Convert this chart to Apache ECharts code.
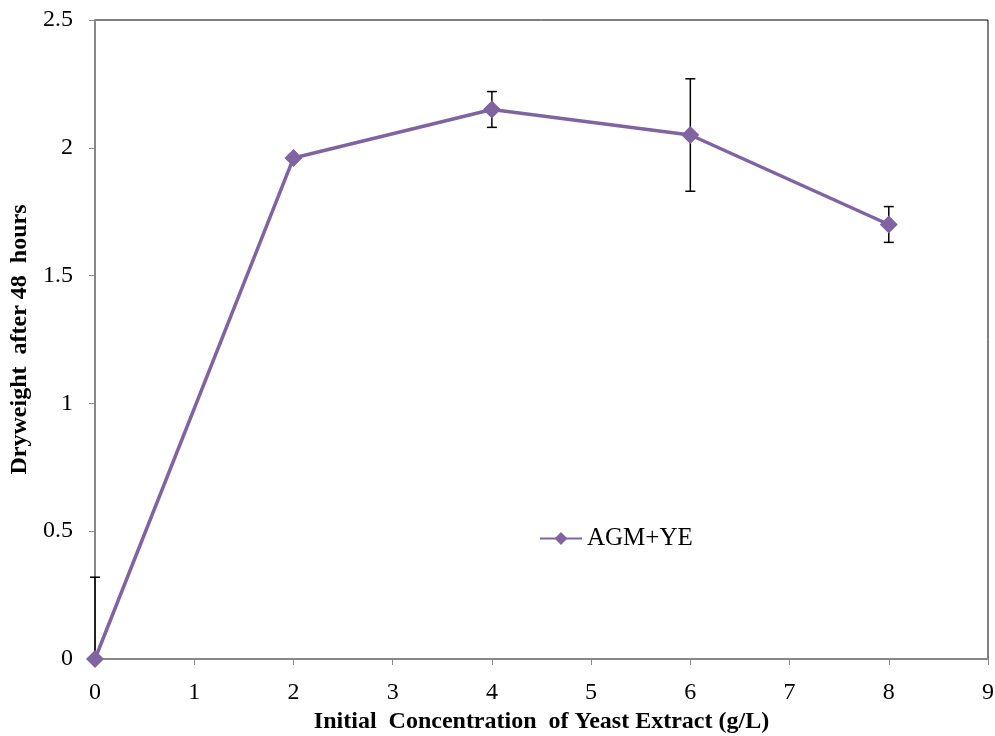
<!DOCTYPE html>
<html>
<head>
<meta charset="utf-8">
<script src="https://cdn.jsdelivr.net/npm/echarts@6/dist/echarts.min.js"></script>
<style>
  html, body { margin: 0; padding: 0; background: #fff; }
  #chart { width: 995px; height: 736px; }
</style>
</head>
<body>
<div id="chart"></div>
<script>
// Yeast extract concentration (g/L) and dry weight after 48 h
const concentrations = [0, 2, 4, 6, 8];
const dryWeight = [0, 1.96, 2.15, 2.05, 1.70];
const errorSize = [0.32, 0, 0.07, 0.22, 0.07];
const seriesName = 'AGM+YE';

const Y_MIN = 0;
const lineColor = '#8064A2';
const font = '"Liberation Serif", "Times New Roman", serif';

const lineData = concentrations.map((x, i) => [x, dryWeight[i]]);
const errData = concentrations.map((x, i) => [x, Math.max(Y_MIN, dryWeight[i] - errorSize[i]), dryWeight[i] + errorSize[i]])
  .filter((d, i) => errorSize[i] > 0);

const chart = echarts.init(document.getElementById('chart'), null, { renderer: 'canvas' });

chart.setOption({
  animation: false,
  backgroundColor: '#fff',
  grid: {
    left: 95, right: 7, top: 20, bottom: 77,
    outerBoundsMode: 'none', containLabel: false,
    show: true, borderColor: '#000', borderWidth: 1, backgroundColor: 'transparent'
  },
  legend: {
    left: 534, top: 521,
    itemWidth: 42, itemHeight: 16, itemGap: 5,
    data: [{ name: seriesName }],
    textStyle: { fontFamily: font, fontSize: 25, color: '#000' }
  },
  xAxis: {
    type: 'value', min: 0, max: 9, interval: 1,
    name: 'Initial  Concentration  of Yeast Extract (g/L)',
    nameLocation: 'middle', nameGap: 49,
    nameTextStyle: { fontFamily: font, fontSize: 24, fontWeight: 'bold', color: '#000' },
    axisLine: { show: true, onZero: false, lineStyle: { color: '#888', width: 2 } },
    axisTick: { show: true, inside: false, length: 6, lineStyle: { color: '#888', width: 1 } },
    axisLabel: { margin: 22, fontFamily: font, fontSize: 24, color: '#000' },
    splitLine: { show: false }
  },
  yAxis: {
    type: 'value', min: Y_MIN, max: 2.5, interval: 0.5,
    name: 'Dryweight  after 48  hours',
    nameLocation: 'middle', nameGap: 57,
    nameTextStyle: { fontFamily: font, fontSize: 24, fontWeight: 'bold', color: '#000' },
    axisLine: { show: true, lineStyle: { color: '#888', width: 2 } },
    axisTick: { show: true, inside: false, length: 6, lineStyle: { color: '#888', width: 1 } },
    axisLabel: { margin: 22, fontFamily: font, fontSize: 24, color: '#000' },
    splitLine: { show: false }
  },
  series: [
    {
      type: 'custom',
      name: 'error',
      clip: false,
      z: 3,
      data: errData,
      renderItem: function (params, api) {
        const x = api.value(0);
        const lo = api.coord([x, api.value(1)]);
        const hi = api.coord([x, api.value(2)]);
        const cap = 5;
        const style = { stroke: '#000', lineWidth: 1.5 };
        return {
          type: 'group',
          children: [
            { type: 'line', shape: { x1: lo[0], y1: lo[1], x2: hi[0], y2: hi[1] }, style: style },
            { type: 'line', shape: { x1: hi[0] - cap, y1: hi[1], x2: hi[0] + cap, y2: hi[1] }, style: style },
            { type: 'line', shape: { x1: lo[0] - cap, y1: lo[1], x2: lo[0] + cap, y2: lo[1] }, style: style }
          ]
        };
      }
    },
    {
      type: 'line',
      name: seriesName,
      data: lineData,
      z: 5,
      clip: false,
      symbol: 'diamond',
      symbolSize: 18,
      showAllSymbol: true,
      itemStyle: { color: lineColor },
      lineStyle: { color: lineColor, width: 3.5 }
    }
  ]
});
</script>
</body>
</html>
